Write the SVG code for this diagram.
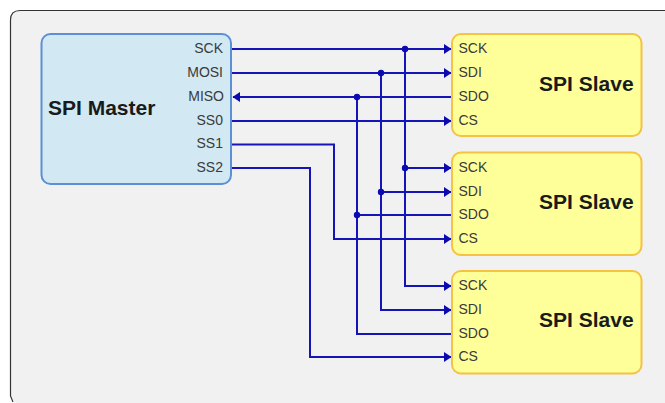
<svg xmlns="http://www.w3.org/2000/svg" width="665" height="403" viewBox="0 0 665 403">
<style>
text{font-family:"Liberation Sans",Arial,sans-serif}
.p{font-size:14px;fill:#3a3a3a}
.e{text-anchor:end}
.t{font-size:21px;font-weight:bold;fill:#1a1a1a}
.m{fill:#d2e9f3;stroke:#5b8fd6;stroke-width:2}
.s{fill:#ffff99;stroke:#f5c242;stroke-width:2}
.c{fill:none;stroke:#1414b8;stroke-width:2}
.d{fill:#0a0ab0}
</style>
<defs>
<marker id="a" markerUnits="userSpaceOnUse" markerWidth="8" markerHeight="10" refX="7" refY="5" orient="auto"><path d="M0 0L7.5 5L0 10z" fill="#0a0ab0"/></marker>
</defs>
<path id="panel" d="M665 10.5H20Q10.500 10.500 10.500 20V396L15 403H665z" fill="#f1f1f1"/>
<path d="M665 10.500H20Q10.500 10.500 10.500 20V396L13 402" fill="none" stroke="#333" stroke-width="1.200"/>
<g id="connectors">
<path class="c" d="M231 49H451" marker-end="url(#a)"/>
<path class="c" d="M231 73H451" marker-end="url(#a)"/>
<path class="c" d="M452 97H233" marker-end="url(#a)"/>
<path class="c" d="M231 121H451" marker-end="url(#a)"/>
<path class="c" d="M405 49V286H451" marker-end="url(#a)"/>
<path class="c" d="M405 168H451" marker-end="url(#a)"/>
<path class="c" d="M381 73V310H451" marker-end="url(#a)"/>
<path class="c" d="M381 192H451" marker-end="url(#a)"/>
<path class="c" d="M357 97V334H452"/>
<path class="c" d="M357 215H452"/>
<path class="c" d="M231 144.500H334V239H451" marker-end="url(#a)"/>
<path class="c" d="M231 168H310V357H451" marker-end="url(#a)"/>
<circle class="d" cx="405" cy="49" r="3.200"/>
<circle class="d" cx="381" cy="73" r="3.200"/>
<circle class="d" cx="357" cy="97" r="3.200"/>
<circle class="d" cx="405" cy="168" r="3.200"/>
<circle class="d" cx="381" cy="192" r="3.200"/>
<circle class="d" cx="357" cy="215" r="3.200"/>
</g>
<g id="master">
<rect class="m" x="41.500" y="34" width="189.500" height="150" rx="9"/>
<text class="t" x="48" y="115">SPI Master</text>
<text class="p e" x="223" y="53">SCK</text>
<text class="p e" x="223" y="77">MOSI</text>
<text class="p e" x="224" y="101">MISO</text>
<text class="p e" x="223" y="125">SS0</text>
<text class="p e" x="223" y="148">SS1</text>
<text class="p e" x="223" y="172">SS2</text>
</g>
<g id="slave1">
<rect class="s" x="452" y="34" width="189.500" height="102" rx="9"/>
<text class="t" x="539" y="91">SPI Slave</text>
<text class="p" x="458.500" y="53">SCK</text>
<text class="p" x="458.500" y="77">SDI</text>
<text class="p" x="458.500" y="101">SDO</text>
<text class="p" x="458.500" y="125">CS</text>
</g>
<g id="slave2">
<rect class="s" x="452" y="152.500" width="189.500" height="102.500" rx="9"/>
<text class="t" x="539" y="209">SPI Slave</text>
<text class="p" x="458.500" y="172">SCK</text>
<text class="p" x="458.500" y="196">SDI</text>
<text class="p" x="458.500" y="219">SDO</text>
<text class="p" x="458.500" y="243">CS</text>
</g>
<g id="slave3">
<rect class="s" x="452" y="271" width="189.500" height="102.500" rx="9"/>
<text class="t" x="539" y="327">SPI Slave</text>
<text class="p" x="458.500" y="290">SCK</text>
<text class="p" x="458.500" y="314">SDI</text>
<text class="p" x="458.500" y="338">SDO</text>
<text class="p" x="458.500" y="361">CS</text>
</g>
</svg>
